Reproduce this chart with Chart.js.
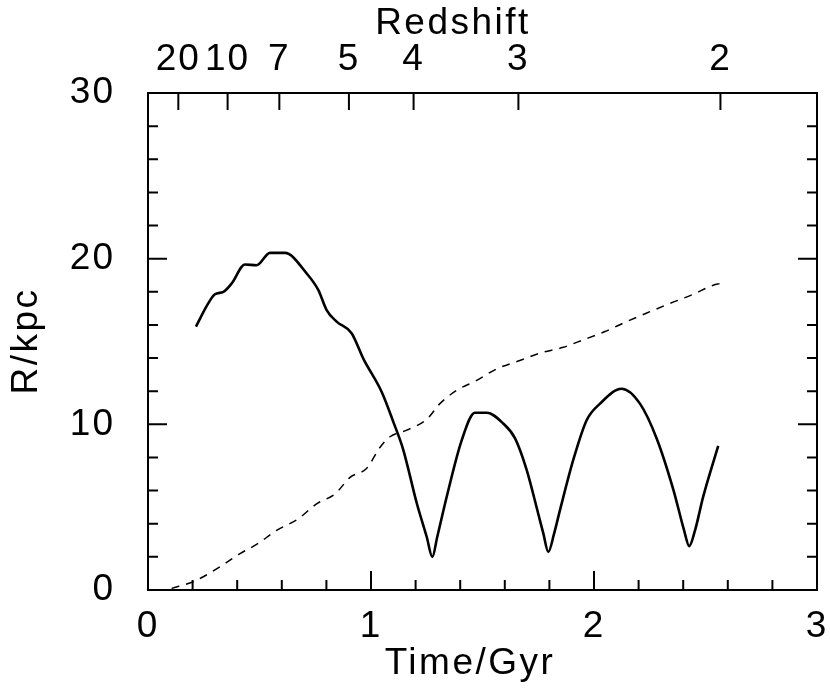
<!DOCTYPE html>
<html>
<head>
<meta charset="utf-8">
<title>R vs time</title>
<script src="https://cdn.jsdelivr.net/npm/chart.js@4/dist/chart.umd.min.js"></script>
<style>
  body { margin: 0; background: #fff; }
  #chart { display: block; }
</style>
</head>
<body>
<canvas id="chart" width="830" height="693"></canvas>
<script>
// solid curve: orbit radius
const timeSolid = [0.215, 0.270, 0.300, 0.338, 0.375, 0.435, 0.487, 0.547, 0.614, 0.712,
  0.764, 0.801, 0.846, 0.913, 0.966, 1.048, 1.100, 1.145, 1.205, 1.250, 1.275, 1.297,
  1.339, 1.407, 1.466, 1.519, 1.593, 1.646, 1.698, 1.750, 1.773, 1.795, 1.821, 1.848,
  1.907, 1.967, 2.027, 2.124, 2.206, 2.281, 2.356, 2.404, 2.427, 2.453, 2.490, 2.557]
const radiusSolid = [15.9, 17.3, 17.85, 18.0, 18.5, 19.65, 19.6, 20.35, 20.35, 19.1,
  18.1, 16.9, 16.2, 15.5, 13.95, 11.95, 10.15, 8.45, 5.25, 3.2, 2.0, 3.2,
  5.6, 9.05, 10.7, 10.7, 10.05, 9.15, 7.25, 4.6, 3.4, 2.3, 3.4, 4.85,
  7.85, 10.25, 11.25, 12.15, 11.25, 9.15, 6.05, 3.6, 2.65, 3.6, 5.65, 8.7]

// dashed curve
const timeDashed = [0.106, 0.203, 0.248, 0.323, 0.413, 0.487, 0.577, 0.674, 0.756, 0.839,
  0.906, 0.981, 1.040, 1.085, 1.160, 1.250, 1.309, 1.384, 1.474, 1.564, 1.668, 1.758,
  1.862, 1.952, 2.049, 2.146, 2.251, 2.341, 2.445, 2.535, 2.565]
const radiusDashed = [0.1, 0.5, 0.8, 1.4, 2.2, 2.75, 3.6, 4.3, 5.2, 5.8,
  6.8, 7.35, 8.6, 9.25, 9.65, 10.3, 11.25, 12.05, 12.65, 13.35, 13.85, 14.3,
  14.65, 15.1, 15.6, 16.2, 16.8, 17.3, 17.85, 18.4, 18.5]

// top axis: redshift labels and the time they sit at
const redshiftLabels = ['20', '10', '7', '5', '4', '3', '2']
const redshiftTimes = [0.136, 0.357, 0.589, 0.901, 1.191, 1.661, 2.567]

const FONT = 'Liberation Sans, Arial, sans-serif'
const tickFont = { family: FONT, size: 37 }

function toPoints(xs, ys) {
  return xs.map((x, i) => ({ x, y: ys[i] }))
}

// fixed box sizes so the frame lands where the reference has it
function fixBox(size) {
  return s => {
    if (s.isHorizontal()) s.height = size
    else s.width = size
    s.paddingLeft = s.paddingRight = s.paddingTop = s.paddingBottom = 0
  }
}

// inward tick marks drawn on the frame
const frameTicks = {
  id: 'frameTicks',
  beforeDraw(chart) {
    chart.ctx.letterSpacing = '2px'
  },
  afterDraw(chart) {
    const { ctx, chartArea: a, scales } = chart
    ctx.save()
    ctx.strokeStyle = '#000'
    ctx.lineWidth = 2
    ctx.beginPath()
    for (let i = 0; i <= 15; i++) {
      const px = scales.x.getPixelForValue(i * 0.2)
      const len = i % 5 === 0 ? 19 : 10
      ctx.moveTo(px, a.bottom)
      ctx.lineTo(px, a.bottom - len)
    }
    for (let i = 0; i <= 15; i++) {
      const py = scales.y.getPixelForValue(i * 2)
      const len = i % 5 === 0 ? 19 : 10
      ctx.moveTo(a.left, py)
      ctx.lineTo(a.left + len, py)
      ctx.moveTo(a.right, py)
      ctx.lineTo(a.right - len, py)
    }
    redshiftTimes.forEach(t => {
      const px = scales.x2.getPixelForValue(t)
      ctx.moveTo(px, a.top)
      ctx.lineTo(px, a.top + 17)
    })
    ctx.stroke()

    // axis titles
    ctx.fillStyle = '#000'
    ctx.font = '37px ' + FONT
    ctx.letterSpacing = '2.5px'
    ctx.textAlign = 'center'
    ctx.textBaseline = 'alphabetic'
    ctx.fillText('Time/Gyr', 470, 674)
    ctx.fillText('Redshift', 453, 34)
    ctx.translate(37, 341)
    ctx.rotate(-Math.PI / 2)
    ctx.fillText('R/kpc', 0, 0)
    ctx.restore()
  }
}

const noGrid = { display: false, drawTicks: false, tickLength: 0 }
const frame = { display: true, color: '#000', width: 2 }

new Chart(document.getElementById('chart'), {
  type: 'line',
  data: {
    datasets: [
      {
        label: 'R',
        data: toPoints(timeSolid, radiusSolid),
        borderColor: '#000',
        borderWidth: 2.6,
        pointRadius: 0,
        cubicInterpolationMode: 'monotone',
        fill: false
      },
      {
        label: 'dashed',
        data: toPoints(timeDashed, radiusDashed),
        borderColor: '#000',
        borderWidth: 1.5,
        borderDash: [8, 7],
        pointRadius: 0,
        cubicInterpolationMode: 'monotone',
        fill: false
      }
    ]
  },
  options: {
    responsive: false,
    animation: false,
    devicePixelRatio: 1,
    layout: { padding: 0 },
    plugins: { legend: { display: false }, tooltip: { enabled: false } },
    scales: {
      x: {
        type: 'linear', position: 'bottom', min: 0, max: 3,
        grid: noGrid, border: frame,
        ticks: { stepSize: 1, font: tickFont, color: '#000', padding: 15, maxRotation: 0 },
        afterFit: fixBox(103)
      },
      x2: {
        type: 'linear', position: 'top', min: 0, max: 3,
        grid: noGrid, border: frame,
        ticks: {
          font: tickFont, color: '#000', padding: 11, autoSkip: false, maxRotation: 0,
          callback: (v, i) => redshiftLabels[i]
        },
        afterBuildTicks(s) { s.ticks = redshiftTimes.map(v => ({ value: v })) },
        afterFit: fixBox(93)
      },
      y: {
        type: 'linear', position: 'left', min: 0, max: 30,
        grid: noGrid, border: frame,
        ticks: { stepSize: 10, font: tickFont, color: '#000', padding: 33 },
        afterFit: fixBox(148)
      },
      y2: {
        type: 'linear', position: 'right', min: 0, max: 30,
        grid: noGrid, border: frame,
        ticks: { display: false },
        afterFit: fixBox(13)
      }
    }
  },
  plugins: [frameTicks]
})
</script>
</body>
</html>
